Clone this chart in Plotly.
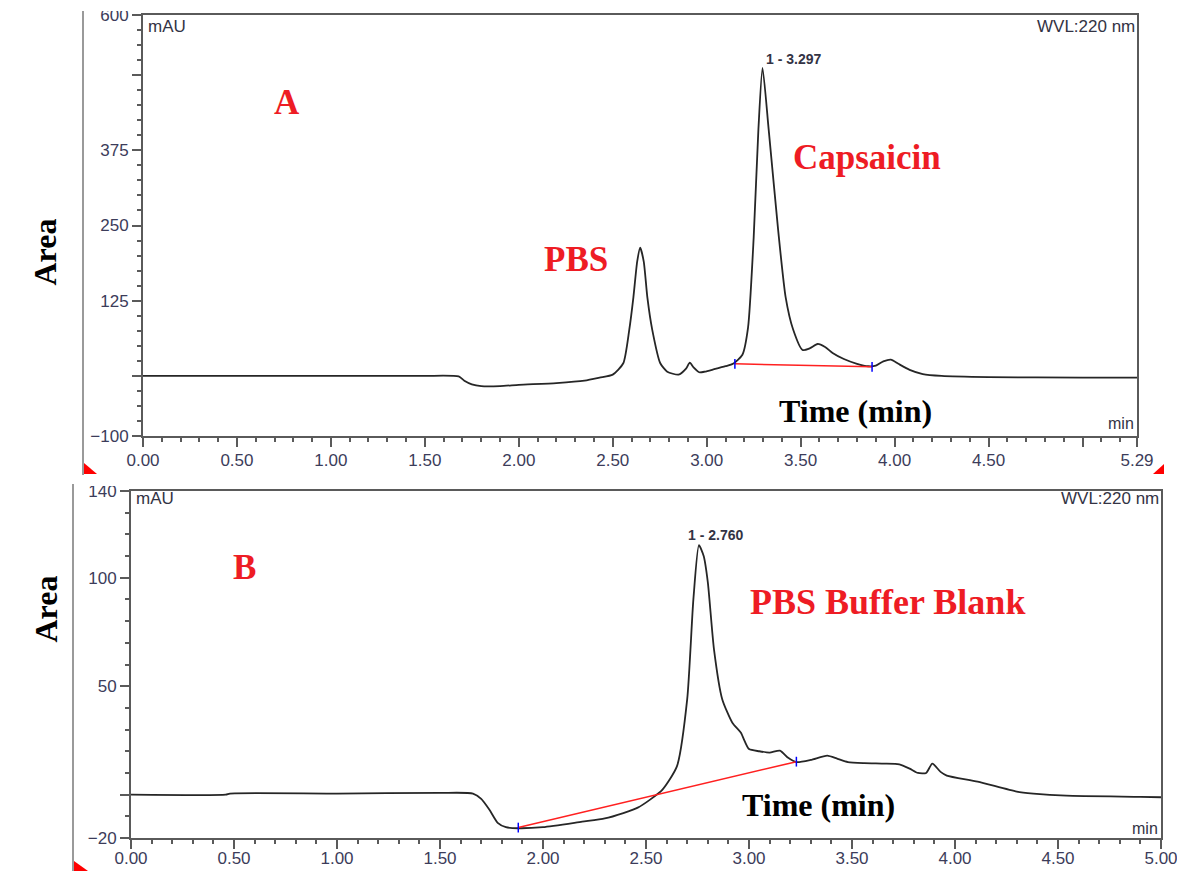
import plotly.graph_objects as go

# ---------------- data: chromatogram A (capsaicin sample) ----------------
time_a = [0.00, 0.50, 1.00, 1.50, 1.68, 1.71, 1.75, 1.80, 1.90, 2.00, 2.20, 2.35,
          2.43, 2.50, 2.556, 2.588, 2.61, 2.63, 2.646, 2.665, 2.684, 2.71, 2.753,
          2.79, 2.85, 2.89, 2.91, 2.93, 2.96, 2.99, 3.04, 3.10, 3.14, 3.19, 3.22,
          3.25, 3.275, 3.297, 3.33, 3.38, 3.42, 3.46, 3.51, 3.55, 3.59, 3.63, 3.67,
          3.73, 3.80, 3.86, 3.90, 3.94, 3.98, 4.02, 4.08, 4.15, 4.25, 4.50, 5.00, 5.29]
area_a = [0, 0, 0, 0, -1, -8, -14, -17, -17, -15, -12, -8,
          -3, 2, 21, 77, 131, 190, 213, 190, 131, 77, 21,
          7, 2, 12, 22, 14, 6, 7, 11, 16, 20, 35, 80,
          230, 409, 512, 409, 243, 131, 77, 43, 46, 53, 48, 38,
          28, 20, 16, 17, 24, 27, 20, 10, 3, 0, -2, -3, -3]
base_a_t = [3.15, 3.88]
base_a_v = [20, 15]

# ---------------- data: chromatogram B (PBS buffer blank) ----------------
time_b = [0.00, 0.46, 0.48, 1.00, 1.50, 1.66, 1.70, 1.74, 1.78, 1.82, 1.88, 2.00,
          2.19, 2.30, 2.39, 2.46, 2.52, 2.58, 2.65, 2.70, 2.73, 2.757, 2.78, 2.80,
          2.83, 2.87, 2.92, 2.96, 3.00, 3.05, 3.10, 3.15, 3.19, 3.23, 3.30, 3.38,
          3.43, 3.48, 3.56, 3.65, 3.73, 3.78, 3.82, 3.86, 3.89, 3.93, 3.96, 4.11,
          4.30, 4.38, 4.54, 4.90, 5.00]
area_b = [0, 0, 0.5, 0.5, 0.8, 0.5, -2, -7, -13, -15, -15.5, -15,
          -12.5, -11, -8.5, -6, -2.3, 2.3, 13, 44, 90, 115, 110, 98,
          67, 44, 33, 28.6, 21, 20, 19.4, 20.3, 17, 15, 16, 18,
          16.5, 15, 14.5, 14.3, 14, 12, 10, 10, 14.3, 10.5, 8.8, 6,
          1.4, 0.5, -0.5, -1, -1.2]
base_b_t = [1.88, 3.23]
base_b_v = [-15.2, 15.2]

# ---------------- tick labels ----------------
xa_ticks = [0.0, 0.5, 1.0, 1.5, 2.0, 2.5, 3.0, 3.5, 4.0, 4.5, 5.0, 5.29]
xa_text = ["0.00", "0.50", "1.00", "1.50", "2.00", "2.50", "3.00", "3.50",
           "4.00", "4.50", "", "5.29"]
ya_ticks = [-100, 0, 125, 250, 375, 500, 600]
ya_text = ["\u2212100", "", "125", "250", "375", "", "600"]
xb_ticks = [0.0, 0.5, 1.0, 1.5, 2.0, 2.5, 3.0, 3.5, 4.0, 4.5, 5.0]
xb_text = ["0.00", "0.50", "1.00", "1.50", "2.00", "2.50", "3.00", "3.50",
           "4.00", "4.50", "5.00"]
yb_ticks = [-20, 0, 50, 100, 140]
yb_text = ["\u221220", "", "50", "100", "140"]

W, H = 1177, 871
TRACE = "#262626"
AXC = "#5a5a5a"
TICKF = dict(family="Liberation Sans, Arial", size=17, color="#3c3c5a")
RED = "#ee1c24"
SERIF = "Liberation Serif, Times New Roman, serif"

fig = go.Figure()
fig.add_trace(go.Scatter(x=time_a, y=area_a, mode="lines",
                         line=dict(color=TRACE, width=1.8, shape="spline", smoothing=0.6),
                         xaxis="x", yaxis="y", hoverinfo="skip"))
fig.add_trace(go.Scatter(x=base_a_t, y=base_a_v, mode="lines+markers",
                         line=dict(color="#ff2020", width=1.5),
                         marker=dict(symbol="line-ns-open", size=7, color="blue",
                                     line=dict(color="blue", width=1.5)),
                         xaxis="x", yaxis="y", hoverinfo="skip"))
fig.add_trace(go.Scatter(x=time_b, y=area_b, mode="lines",
                         line=dict(color=TRACE, width=1.8, shape="spline", smoothing=0.6),
                         xaxis="x2", yaxis="y2", hoverinfo="skip"))
fig.add_trace(go.Scatter(x=base_b_t, y=base_b_v, mode="lines+markers",
                         line=dict(color="#ff2020", width=1.5),
                         marker=dict(symbol="line-ns-open", size=7, color="blue",
                                     line=dict(color="blue", width=1.5)),
                         xaxis="x2", yaxis="y2", hoverinfo="skip"))


def axis(domain, rng, tv, tt, minor_dtick, anchor, standoff):
    return dict(domain=domain, range=rng, tickmode="array", tickvals=tv, ticktext=tt,
                showline=True, linecolor=AXC, linewidth=2, mirror=True,
                ticks="outside", ticklen=9, tickwidth=1.5, tickcolor=AXC,
                minor=dict(dtick=minor_dtick, tick0=rng[0], ticks="outside", ticklen=4,
                           tickwidth=1.5, tickcolor=AXC),
                showgrid=False, zeroline=False, tickfont=TICKF, anchor=anchor,
                ticklabelstandoff=standoff, ticklabeloverflow="allow",
                fixedrange=True, automargin=False)


fig.update_layout(
    template="none",
    width=W, height=H, margin=dict(l=0, r=0, t=0, b=0, autoexpand=False),
    paper_bgcolor="white", plot_bgcolor="white", showlegend=False,
    xaxis=axis([143 / W, 1137 / W], [0, 5.29], xa_ticks, xa_text, 0.1, "y", -1),
    yaxis=axis([1 - 436 / H, 1 - 15 / H], [-100, 600], ya_ticks, ya_text, 25, "x", 0),
    xaxis2=axis([131 / W, 1161 / W], [0, 5.0], xb_ticks, xb_text, 0.1, "y2", -5),
    yaxis2=axis([1 - 838 / H, 1 - 491 / H], [-20, 140], yb_ticks, yb_text, 10, "x2", 0),
)

ann = []
def red(x, y, text, xr, yr, size=35):
    ann.append(dict(x=x, y=y, xref=xr, yref=yr, text=text, showarrow=False,
                    font=dict(family=SERIF, size=size, color=RED, weight="bold")))

def small(x, y, text, xr, yr, anchor, bold=False, size=17):
    ann.append(dict(x=x, y=y, xref=xr, yref=yr, text=text, showarrow=False,
                    xanchor=anchor,
                    font=dict(family="Liberation Sans, Arial", size=size,
                              color="#333344", weight="bold" if bold else "normal")))

# panel A
red(0.767, 454, "A", "x", "y")
red(2.306, 193, "PBS", "x", "y")
red(3.855, 363, "Capsaicin", "x", "y")
ann.append(dict(x=3.79, y=-58, xref="x", yref="y", text="Time (min)", showarrow=False,
                font=dict(family=SERIF, size=32, color="black", weight="bold")))
small(3.46, 527, "1 - 3.297", "x", "y", "center", bold=True, size=14)
small(0.015, 581, "mAU", "x", "y", "left")
small(5.29, 581, "WVL:220 nm", "x", "y", "right")
small(5.285, -80, "min", "x", "y", "right", size=16)

# panel B
red(0.553, 104.8, "B", "x2", "y2")
red(3.67, 89, "PBS Buffer Blank", "x2", "y2", size=36)
ann.append(dict(x=3.335, y=-4.6, xref="x2", yref="y2", text="Time (min)", showarrow=False,
                font=dict(family=SERIF, size=32, color="black", weight="bold")))
small(2.835, 119.5, "1 - 2.760", "x2", "y2", "center", bold=True, size=14)
small(0.015, 136.6, "mAU", "x2", "y2", "left")
small(5.0, 136.6, "WVL:220 nm", "x2", "y2", "right")
small(4.995, -15.7, "min", "x2", "y2", "right", size=16)

# y-axis titles
for yp in (1 - 217 / H, 1 - 645 / H):
    ann.append(dict(x=25 / W, y=yp, xref="paper", yref="paper", text="Area",
                    showarrow=False, textangle=-90,
                    font=dict(family=SERIF, size=32, color="black", weight="bold")))
fig.update_layout(annotations=ann)

# scan borders / corner marks of the original figure
shapes = [
    dict(type="line", xref="paper", yref="paper", x0=83 / W, x1=83 / W,
         y0=1 - 475 / H, y1=1 - 11 / H, line=dict(color="#9a9a9a", width=2)),
    dict(type="line", xref="paper", yref="paper", x0=73 / W, x1=73 / W,
         y0=0, y1=1 - 484 / H, line=dict(color="#9a9a9a", width=2)),
    dict(type="path", xref="paper", yref="paper", fillcolor="red", line=dict(width=0),
         path=f"M {84/W},{1-463/H} L {84/W},{1-474/H} L {97/W},{1-474/H} Z"),
    dict(type="path", xref="paper", yref="paper", fillcolor="red", line=dict(width=0),
         path=f"M {1153/W},{1-474/H} L {1164/W},{1-474/H} L {1164/W},{1-464/H} Z"),
    dict(type="path", xref="paper", yref="paper", fillcolor="red", line=dict(width=0),
         path=f"M {74/W},{1-861/H} L {74/W},{1-871/H} L {88/W},{1-871/H} Z"),
    # crop the tops of the top tick labels as in the original scan
    dict(type="rect", xref="paper", yref="paper", layer="above", x0=86 / W, x1=136 / W,
         y0=1 - 11 / H, y1=1, fillcolor="white", line=dict(width=0)),
    dict(type="rect", xref="paper", yref="paper", layer="above", x0=76 / W, x1=124 / W,
         y0=1 - 486 / H, y1=1 - 476 / H, fillcolor="white", line=dict(width=0)),
]
fig.update_layout(shapes=shapes)

fig.write_html("out.html", config={"displayModeBar": False},
               post_script="document.body.style.margin='0';"
                           "document.body.style.overflow='hidden';")
